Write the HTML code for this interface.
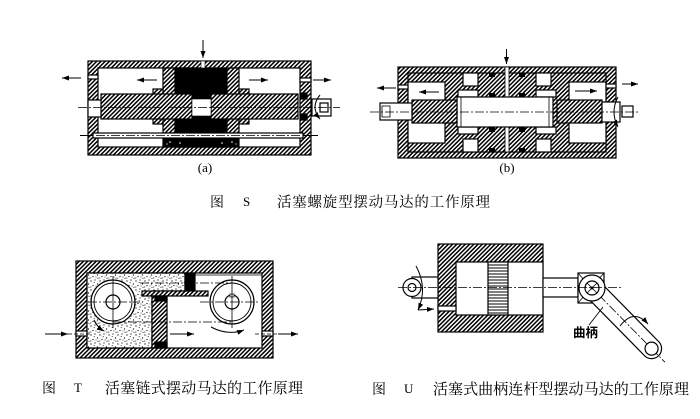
<!DOCTYPE html>
<html><head><meta charset="utf-8"><style>
html,body{margin:0;padding:0;background:#fff;}
svg{display:block;}
</style></head><body>
<svg width="700" height="419" viewBox="0 0 700 419" xmlns="http://www.w3.org/2000/svg">
<defs>
<pattern id="h" width="3" height="3" patternUnits="userSpaceOnUse" patternTransform="rotate(45)">
<rect width="3" height="3" fill="#fff"/><line x1="0.75" y1="0" x2="0.75" y2="3" stroke="#000" stroke-width="1.5"/></pattern>
<pattern id="hs" width="4" height="3" patternUnits="userSpaceOnUse">
<rect width="4" height="3" fill="#fff"/><line x1="0" y1="1" x2="4" y2="1" stroke="#000" stroke-width="1"/></pattern>
<pattern id="d" width="9" height="9" patternUnits="userSpaceOnUse">
<rect width="9" height="9" fill="#fff"/>
<circle cx="1" cy="2" r="0.65"/><circle cx="5" cy="1" r="0.6"/><circle cx="7.5" cy="5" r="0.65"/>
<circle cx="3" cy="6.5" r="0.6"/><circle cx="8" cy="8.3" r="0.55"/><circle cx="4.2" cy="3.6" r="0.5"/>
<circle cx="0.8" cy="8" r="0.55"/><circle cx="6" cy="7" r="0.45"/></pattern>
<marker id="a" markerWidth="7" markerHeight="5" refX="7" refY="2.5" orient="auto" markerUnits="userSpaceOnUse">
<path d="M0,0 L7,2.5 L0,5 z" fill="#000"/></marker>
</defs>

<!-- ================= Figure (a) ================= -->
<g stroke="#000" stroke-width="1.2">
<rect x="88" y="61" width="223" height="94" fill="url(#h)"/>
<rect x="98" y="68" width="202" height="79" fill="#fff"/>
<rect x="175" y="68" width="52" height="79" fill="#000"/>
<rect x="163" y="68" width="12" height="65" fill="url(#h)"/>
<rect x="227" y="68" width="12" height="65" fill="url(#h)"/>
<rect x="153" y="89" width="10" height="35" fill="url(#h)"/>
<rect x="239" y="89" width="10" height="35" fill="url(#h)"/>
<rect x="101" y="94" width="91" height="25" fill="url(#h)"/>
<rect x="211" y="94" width="87" height="25" fill="url(#h)"/>
<rect x="192" y="99" width="19" height="17" fill="#fff" stroke-width="0.6"/>
<rect x="163" y="138" width="76" height="9" fill="#000"/>
<rect x="93" y="133" width="210" height="5" fill="#fff"/>
<rect x="88" y="100" width="13" height="17" fill="#fff"/>
<rect x="88" y="75" width="10" height="4" fill="#fff"/>
<rect x="300" y="78" width="11" height="4" fill="#fff"/>
<rect x="201" y="61" width="4" height="7" fill="#fff" stroke-width="0.6"/>
<rect x="301" y="93" width="6" height="6" fill="#000"/>
<rect x="301" y="114" width="6" height="6" fill="#000"/>
<rect x="312" y="99" width="19" height="17" fill="#fff"/>
<rect x="320" y="103" width="8" height="9" fill="#fff"/>
</g>
<g fill="#fff"><circle cx="170" cy="142" r="0.8"/><circle cx="180" cy="143" r="0.8"/><circle cx="232" cy="142" r="0.8"/><circle cx="222" cy="143" r="0.8"/><circle cx="167" cy="144" r="0.6"/><circle cx="236" cy="144" r="0.6"/></g>
<g stroke="#000" stroke-width="1" fill="none">
<line x1="78" y1="107.5" x2="340" y2="107.5" stroke-dasharray="9 2 2 2" stroke-width="0.8"/>
<line x1="96" y1="135.5" x2="300" y2="135.5" stroke-dasharray="9 2 2 2" stroke-width="0.8"/>
<line x1="80" y1="135.5" x2="93" y2="135.5"/>
<line x1="303" y1="135.5" x2="318" y2="135.5"/>
<line x1="203" y1="40" x2="203" y2="58" marker-end="url(#a)"/>
<line x1="81" y1="78" x2="62" y2="78" marker-end="url(#a)"/>
<line x1="157" y1="80" x2="137" y2="80" marker-end="url(#a)"/>
<line x1="249" y1="80" x2="268" y2="80" marker-end="url(#a)"/>
<line x1="313" y1="80" x2="331" y2="80" marker-end="url(#a)"/>
<path d="M320,95 Q310,107 320,119" marker-end="url(#a)"/>
</g>
<text x="205" y="172" font-family="Liberation Serif, serif" font-size="13" text-anchor="middle">(a)</text>

<!-- ================= Figure (b) ================= -->
<g stroke="#000" stroke-width="1.2">
<rect x="398" y="67" width="218" height="91" fill="url(#h)"/>
<rect x="408" y="73" width="198" height="79" fill="url(#h)"/>
<rect x="408" y="82" width="37" height="61" fill="#fff"/>
<rect x="569" y="82" width="37" height="61" fill="#fff"/>
<rect x="463" y="73" width="15" height="13" fill="#fff"/>
<rect x="536" y="73" width="15" height="13" fill="#fff"/>
<rect x="463" y="139" width="15" height="13" fill="#fff"/>
<rect x="536" y="139" width="15" height="13" fill="#fff"/>
<rect x="458" y="90" width="20" height="7" fill="#fff"/>
<rect x="536" y="90" width="20" height="7" fill="#fff"/>
<rect x="458" y="127" width="20" height="7" fill="#fff"/>
<rect x="536" y="127" width="20" height="7" fill="#fff"/>
<rect x="505" y="67" width="4" height="85" fill="#fff" stroke-width="0.8"/>
<rect x="457" y="97" width="96" height="30" fill="#fff"/>
<line x1="461" y1="97" x2="461" y2="127" stroke-width="0.8"/>
<line x1="549" y1="97" x2="549" y2="127" stroke-width="0.8"/>
<rect x="412" y="100" width="45" height="23" fill="url(#h)"/>
<rect x="557" y="100" width="45" height="23" fill="url(#h)"/>
<rect x="380" y="103" width="32" height="17" fill="#fff"/>
<rect x="382" y="106" width="8" height="11" fill="#fff" stroke-width="0.8"/>
<rect x="602" y="102" width="18" height="20" fill="#fff"/>
<rect x="622" y="106" width="11" height="11" fill="#fff"/>
<rect x="398" y="85" width="10" height="4" fill="#fff"/>
<rect x="606" y="84" width="10" height="4" fill="#fff"/>
</g>
<g fill="#000">
<rect x="489" y="73" width="6" height="4"/><rect x="489" y="93" width="6" height="4"/>
<rect x="489" y="127" width="6" height="5"/><rect x="489" y="148" width="6" height="4"/>
<rect x="519" y="73" width="6" height="4"/><rect x="519" y="93" width="6" height="4"/>
<rect x="519" y="127" width="6" height="5"/><rect x="519" y="148" width="6" height="4"/>
</g>
<g stroke="#000" stroke-width="1" fill="none">
<line x1="370" y1="112" x2="640" y2="112" stroke-dasharray="9 2 2 2" stroke-width="0.8"/>
<line x1="506.5" y1="49" x2="506.5" y2="64" marker-end="url(#a)"/>
<line x1="396" y1="88" x2="377" y2="88" marker-end="url(#a)"/>
<line x1="439" y1="92" x2="419" y2="92" marker-end="url(#a)"/>
<line x1="575" y1="91" x2="597" y2="91" marker-end="url(#a)"/>
<line x1="622" y1="84" x2="638" y2="84" marker-end="url(#a)"/>
<path d="M618,97 Q610,112 618,127" marker-end="url(#a)"/>
</g>
<text x="507" y="172" font-family="Liberation Serif, serif" font-size="13" text-anchor="middle">(b)</text>

<!-- Caption S -->
<text x="210" y="207" font-family="Liberation Serif, 'Noto Serif CJK SC', serif" font-size="14">图</text>
<text x="243" y="206" font-family="Liberation Serif, serif" font-size="13">S</text>
<text x="277" y="207" font-family="Liberation Serif, 'Noto Serif CJK SC', serif" font-size="14.5" textLength="213" lengthAdjust="spacing">活塞螺旋型摆动马达的工作原理</text>

<!-- ================= Figure T ================= -->
<g stroke="#000" stroke-width="1.2">
<rect x="76" y="261" width="197" height="97" fill="url(#h)"/>
<rect x="87" y="273" width="175" height="75" fill="#fff"/>
<path d="M87,273 H185 V291 H152 V348 H87 Z" fill="url(#d)"/>
<rect x="185" y="273" width="10" height="8.5" fill="#000"/>
<rect x="185" y="282.5" width="10" height="8.5" fill="#000"/>
<rect x="142" y="291" width="66" height="5" fill="url(#h)"/>
<rect x="152" y="296" width="15" height="52" fill="url(#h)"/>
<rect x="155" y="296" width="12" height="5" fill="#000"/>
<rect x="155" y="342" width="12" height="6" fill="#000"/>
<rect x="76" y="331" width="11" height="5" fill="#fff"/>
<rect x="262" y="331" width="11" height="5" fill="#fff"/>
<circle cx="113" cy="302" r="22" fill="#fff"/>
<circle cx="113" cy="302" r="19" fill="none" stroke-width="0.9"/>
<circle cx="113" cy="302" r="7" fill="#fff"/>
<circle cx="232" cy="302" r="22" fill="#fff"/>
<circle cx="232" cy="302" r="19" fill="none" stroke-width="0.9"/>
<circle cx="232" cy="302" r="7" fill="#fff"/>
<rect x="230" y="294" width="4" height="3" fill="#fff" stroke-width="0.7"/>
</g>
<g stroke="#000" stroke-width="0.8" fill="none">
<line x1="113" y1="276" x2="113" y2="328"/>
<line x1="88" y1="302" x2="140" y2="302" stroke-dasharray="9 2 2 2"/>
<line x1="232" y1="276" x2="232" y2="328"/>
<line x1="200" y1="302" x2="260" y2="302" stroke-dasharray="9 2 2 2"/>
<line x1="140" y1="283" x2="232" y2="283" stroke-dasharray="9 2 2 2"/>
<line x1="113" y1="322" x2="232" y2="322" stroke-dasharray="9 2 2 2"/>
<line x1="195" y1="275" x2="262" y2="275"/>
<line x1="45" y1="334" x2="68" y2="334" marker-end="url(#a)" stroke-width="1"/>
<line x1="68" y1="334" x2="92" y2="334" stroke-dasharray="4 2"/>
<line x1="170" y1="334" x2="194" y2="334" marker-end="url(#a)" stroke-width="1"/>
<line x1="255" y1="334" x2="278" y2="334" stroke-dasharray="4 2"/>
<line x1="278" y1="334" x2="298" y2="334" marker-end="url(#a)" stroke-width="1"/>
<path d="M211,327 Q228,336 244,330" marker-end="url(#a)" stroke-width="1"/>
<path d="M94,320 Q97,327 104,331" marker-end="url(#a)" stroke-width="1"/>
</g>

<!-- Caption T -->
<text x="42" y="393" font-family="Liberation Serif, 'Noto Serif CJK SC', serif" font-size="14">图</text>
<text x="74" y="392" font-family="Liberation Serif, serif" font-size="13">T</text>
<text x="105" y="393" font-family="Liberation Serif, 'Noto Serif CJK SC', serif" font-size="15" textLength="198" lengthAdjust="spacing">活塞链式摆动马达的工作原理</text>

<!-- ================= Figure U ================= -->
<g stroke="#000" stroke-width="1.2">
<rect x="438" y="244" width="105" height="88" fill="url(#h)"/>
<rect x="456" y="262" width="87" height="53" fill="#fff"/>
<rect x="488" y="262" width="20" height="53" fill="url(#hs)"/>
<rect x="438" y="306" width="18" height="5" fill="#fff"/>
<rect x="412" y="277" width="26" height="21" fill="#fff"/>
<circle cx="412" cy="287.5" r="9" fill="#fff"/>
<circle cx="412" cy="287.5" r="4" fill="#fff"/>
<rect x="543" y="278" width="35" height="19" fill="#fff"/>
<rect x="578" y="273" width="26" height="30" fill="#fff"/>
<line x1="578" y1="273" x2="604" y2="303" stroke-width="0.8"/>
<line x1="604" y1="273" x2="578" y2="303" stroke-width="0.8"/>
<g transform="translate(592,288) rotate(45.5)">
<rect x="-10" y="-10" width="105" height="20" rx="10" fill="#fff"/>
<line x1="-5" y1="0" x2="104" y2="0" stroke-width="0.8" stroke-dasharray="9 2 2 2"/>
<circle cx="85" cy="0" r="6.5" fill="#fff"/>
</g>
<circle cx="592" cy="288" r="13" fill="#fff"/>
<circle cx="592" cy="288" r="7" fill="#fff"/>
<line x1="587" y1="283" x2="597" y2="293" stroke-width="0.8"/>
<line x1="597" y1="283" x2="587" y2="293" stroke-width="0.8"/>
</g>
<circle cx="592" cy="288" r="1.5" fill="#000"/>
<g stroke="#000" stroke-width="0.8" fill="none">
<line x1="398" y1="287.5" x2="622" y2="287.5" stroke-dasharray="9 2 2 2"/>
<path d="M416,266 Q428,288 418,310" stroke-width="1" marker-end="url(#a)"/>
<line x1="418" y1="310" x2="434" y2="309" stroke-width="1" marker-end="url(#a)"/>
<path d="M620,326 Q634,308 648,324" stroke-width="1" marker-end="url(#a)"/>
<line x1="589" y1="325" x2="603" y2="307" stroke-width="0.9"/>
</g>
<text x="573" y="337" font-family="Liberation Sans, 'Noto Sans CJK SC', sans-serif" font-size="12.5" font-weight="bold">曲柄</text>

<!-- Caption U -->
<text x="372" y="394" font-family="Liberation Serif, 'Noto Serif CJK SC', serif" font-size="14">图</text>
<text x="404" y="393" font-family="Liberation Serif, serif" font-size="13">U</text>
<text x="433" y="394" font-family="Liberation Serif, 'Noto Serif CJK SC', serif" font-size="15" textLength="256" lengthAdjust="spacing">活塞式曲柄连杆型摆动马达的工作原理</text>
</svg>
</body></html>
